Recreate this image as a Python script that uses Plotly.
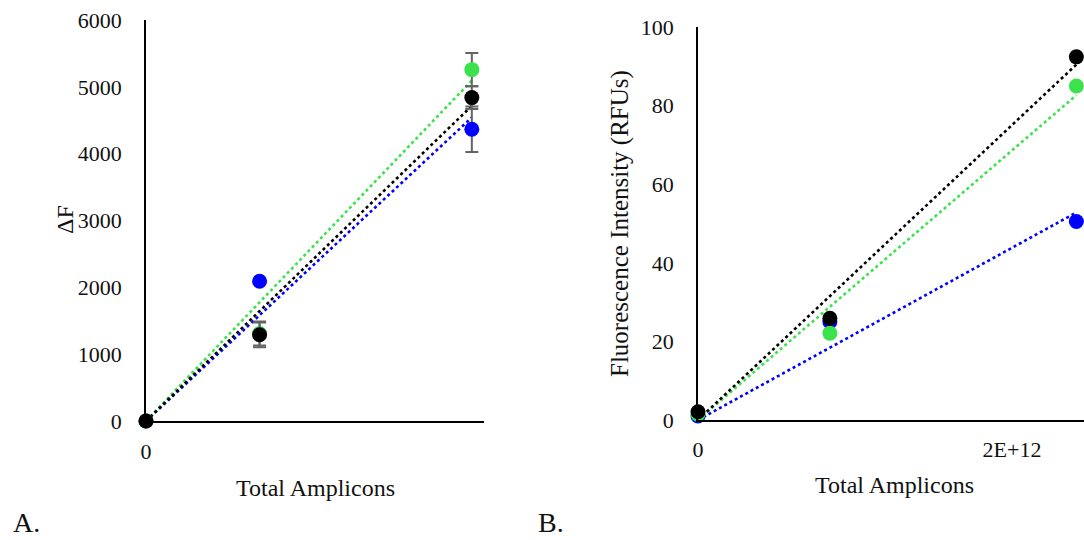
import numpy as np
import plotly.graph_objects as go

# ---------------- data ----------------
amplicons = [0, 0.84e12, 2.41e12]

# Panel A: delta F
dF_blue = [0, 2090, 4365]
dF_blue_err = [0, 40, 340]
dF_green = [0, 1310, 5257]
dF_green_err = [0, 180, 250]
dF_black = [0, 1290, 4839]
dF_black_err = [0, 185, 170]

# Panel B: fluorescence intensity (RFUs)
rfu_blue = [1.0, 25.0, 50.5]
rfu_green = [1.5, 22.1, 85.0]
rfu_black = [2.1, 25.9, 92.4]

ya_ticks = [0, 1000, 2000, 3000, 4000, 5000, 6000]
yb_ticks = [0, 20, 40, 60, 80, 100]
xa_ticks = [0]
xa_ticktext = ["0"]
xb_ticks = [0, 2e12]
xb_ticktext = ["0", "2E+12"]

BLUE = "#0000FF"
GREEN = "#3BE24B"
BLACK = "#000000"
ERR = "#646464"
TXT = "#111111"

W, H = 1084, 540
FONT = "Liberation Serif, Times New Roman, serif"


def px(x):
    return x / W


def py(y):
    return 1 - y / H


def origin_fit(x, y):
    x = np.asarray(x, float)
    y = np.asarray(y, float)
    slope = (x * y).sum() / (x * x).sum()
    xl = np.linspace(0, x.max(), 2)
    return xl, slope * xl


fig = go.Figure()

series_a = [(dF_blue, dF_blue_err, BLUE), (dF_green, dF_green_err, GREEN), (dF_black, dF_black_err, BLACK)]
series_b = [(rfu_blue, BLUE), (rfu_green, GREEN), (rfu_black, BLACK)]

for ys, _, col in series_a:
    xl, yl = origin_fit(amplicons, ys)
    fig.add_trace(go.Scatter(x=xl, y=yl, mode="lines", xaxis="x", yaxis="y",
                             line=dict(color=col, width=2.6, dash="dot"),
                             showlegend=False, hoverinfo="skip"))
for ys, col in series_b:
    xl, yl = origin_fit(amplicons, ys)
    fig.add_trace(go.Scatter(x=xl, y=yl, mode="lines", xaxis="x2", yaxis="y2",
                             line=dict(color=col, width=2.6, dash="dot"),
                             showlegend=False, hoverinfo="skip"))

for ys, err, col in series_a:
    fig.add_trace(go.Scatter(x=amplicons, y=ys, mode="markers", xaxis="x", yaxis="y",
                             marker=dict(color=col, size=15),
                             error_y=dict(type="data", array=err, visible=True,
                                          color=ERR, thickness=2, width=6.5),
                             cliponaxis=False, showlegend=False))
for ys, col in series_b:
    fig.add_trace(go.Scatter(x=amplicons, y=ys, mode="markers", xaxis="x2", yaxis="y2",
                             marker=dict(color=col, size=15),
                             cliponaxis=False, showlegend=False))

axis_common = dict(showgrid=False, zeroline=False, showline=True, linecolor="black",
                   linewidth=1.6, ticks="", automargin=False,
                   tickfont=dict(family=FONT, size=22, color=TXT))

fig.update_layout(
    width=W, height=H,
    margin=dict(l=0, r=0, t=0, b=0, pad=0, autoexpand=False),
    paper_bgcolor="white", plot_bgcolor="white",
    font=dict(family=FONT, color=TXT),
    xaxis=dict(domain=[px(146), px(484)], range=[0, 2.5e12], anchor="y",
               tickvals=xa_ticks, ticktext=xa_ticktext, ticklabelstandoff=10, **axis_common),
    yaxis=dict(domain=[py(421), py(20)], range=[0, 6000], anchor="x",
               tickvals=ya_ticks, ticklabelstandoff=18, **axis_common),
    xaxis2=dict(domain=[px(698), 1.0], range=[0, (W - 698) / 157 * 1e12], anchor="y2",
                tickvals=xb_ticks, ticktext=xb_ticktext, ticklabelstandoff=9, **axis_common),
    yaxis2=dict(domain=[py(420), py(27)], range=[0, 100], anchor="x2",
                tickvals=yb_ticks, ticklabelstandoff=18, **axis_common),
)

ann = dict(xref="paper", yref="paper", showarrow=False, xanchor="center", yanchor="middle",
           font=dict(family=FONT, size=24, color=TXT))
fig.add_annotation(text="Total Amplicons", x=px(315), y=py(488), **ann)
fig.add_annotation(text="Total Amplicons", x=px(894), y=py(485), **ann)
fig.add_annotation(text="ΔF", x=px(65), y=py(220), textangle=-90, **ann)
fig.add_annotation(text="Fluorescence Intensity (RFUs)", x=px(620), y=py(224), textangle=-90,
                   **{**ann, "font": dict(family=FONT, size=25, color=TXT)})
fig.add_annotation(text="A.", x=px(26), y=py(522),
                   **{**ann, "font": dict(family=FONT, size=28, color=TXT)})
fig.add_annotation(text="B.", x=px(551), y=py(522),
                   **{**ann, "font": dict(family=FONT, size=28, color=TXT)})

fig.write_html("out.html", config={"displayModeBar": False},
               post_script="document.body.style.margin='0px';document.body.style.overflow='hidden';")
